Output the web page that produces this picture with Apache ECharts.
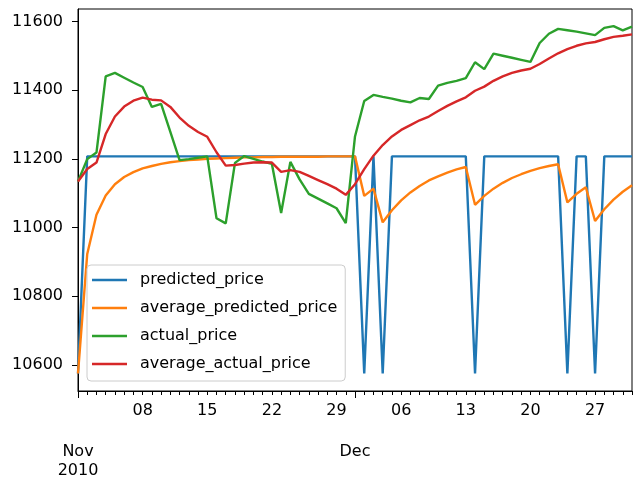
<!DOCTYPE html>
<html>
<head>
<meta charset="utf-8">
<script src="https://cdn.jsdelivr.net/npm/echarts@6/dist/echarts.min.js"></script>
<style>
html,body{margin:0;padding:0;background:#fff;}
#chart{width:640px;height:481px;}
</style>
</head>
<body>
<div id="chart"></div>
<script>
// ---- data ----
const startDate = '2010-11-01';
const dayCount = 61; // 2010-11-01 .. 2010-12-31, daily
const dates = [];
(function(){
  const d0 = new Date(startDate + 'T00:00:00Z');
  for (let i = 0; i < dayCount; i++) {
    const d = new Date(d0.getTime() + i * 86400000);
    dates.push(d.toISOString().slice(0, 10));
  }
})();

const seriesNames = ['predicted_price', 'average_predicted_price', 'actual_price', 'average_actual_price'];

const predictedPrice = [
  10575, 11207, 11207, 11207, 11207, 11207, 11207, 11207, 11207, 11207,
  11207, 11207, 11207, 11207, 11207, 11207, 11207, 11207, 11207, 11207,
  11207, 11207, 11207, 11207, 11207, 11207, 11207, 11207, 11207, 11207,
  11207, 10575, 11207, 10575, 11207, 11207, 11207, 11207, 11207, 11207,
  11207, 11207, 11207, 10575, 11207, 11207, 11207, 11207, 11207, 11207,
  11207, 11207, 11207, 10575, 11207, 11207, 10575, 11207, 11207, 11207,
  11207
];
const averagePredictedPrice = [
  10575, 10923, 11037, 11093, 11126, 11147, 11161, 11172, 11179, 11185,
  11190, 11193, 11196, 11198, 11200, 11201, 11202, 11203, 11204, 11204,
  11205, 11205, 11206, 11206, 11206, 11206, 11206, 11207, 11207, 11207,
  11207, 11092, 11113, 11015, 11050, 11079, 11102, 11121, 11137, 11149,
  11160, 11169, 11176, 11066, 11092, 11113, 11130, 11144, 11155, 11165,
  11173, 11179, 11184, 11073, 11098, 11117, 11019, 11053, 11081, 11104,
  11123
];
const actualPrice = [
  11134, 11199, 11218, 11440, 11450, 11436, 11422, 11409, 11351, 11360,
  11278, 11196, 11199, 11203, 11207, 11027, 11012, 11188, 11208, 11200,
  11192, 11185, 11042, 11191, 11140, 11098, 11084, 11070, 11056, 11013,
  11265, 11368, 11386, 11380, 11375, 11369, 11364, 11377, 11374, 11413,
  11421, 11427, 11435, 11481, 11461, 11506, 11500, 11494, 11488, 11482,
  11537, 11564, 11578, 11574, 11570, 11565, 11560, 11581, 11586, 11574,
  11585
];
const averageActualPrice = [
  11134, 11170, 11189, 11272, 11323, 11352, 11369, 11378, 11372, 11370,
  11351, 11320, 11296, 11278, 11264, 11219, 11180, 11182, 11186, 11189,
  11190, 11189, 11162, 11167, 11162, 11150, 11138, 11126, 11113, 11095,
  11126, 11170, 11209, 11240, 11265, 11284, 11298, 11312, 11323, 11339,
  11354, 11367, 11379, 11398, 11410, 11427, 11440, 11450, 11457, 11462,
  11476, 11492, 11507, 11519, 11529, 11536, 11540, 11548, 11555, 11558,
  11562
];

const yTicks = [10600, 10800, 11000, 11200, 11400, 11600];
const weekTickDates = ['2010-11-08','2010-11-15','2010-11-22','2010-11-29','2010-12-06','2010-12-13','2010-12-20','2010-12-27'];
const weekTickLabels = ['08','15','22','29','06','13','20','27'];
const monthTickDates = ['2010-11-01','2010-12-01'];
const monthTickLabels = ['Nov\n2010','Dec'];

const colors = ['#1f77b4', '#ff7f0e', '#2ca02c', '#d62728'];
const seriesData = [predictedPrice, averagePredictedPrice, actualPrice, averageActualPrice];

// ---- chart ----
const FONT = 'DejaVu Sans';
const chart = echarts.init(document.getElementById('chart'), null, {renderer: 'canvas'});

const option = {
  animation: false,
  backgroundColor: '#ffffff',
  textStyle: {fontFamily: FONT},
  grid: {
    left: 78, right: 8, top: 9, bottom: 90,
    show: true, borderColor: '#000000', borderWidth: 1, backgroundColor: 'transparent'
  },
  legend: {
    orient: 'vertical',
    left: 87, top: 265,
    data: seriesNames,
    icon: 'rect',
    itemWidth: 35, itemHeight: 2.5,
    itemGap: 10,
    padding: [6, 8, 8, 5],
    backgroundColor: 'rgba(255,255,255,0.8)',
    borderColor: '#cccccc', borderWidth: 1, borderRadius: 4,
    selectedMode: false,
    textStyle: {fontFamily: FONT, fontSize: 16, color: '#000', lineHeight: 18, padding: [0, 0, 0, 8]}
  },
  xAxis: [
    {
      type: 'category', data: dates, boundaryGap: false, position: 'bottom',
      axisLine: {show: true, lineStyle: {color: '#000', width: 1}},
      axisTick: {show: true, interval: 0, length: 4, lineStyle: {color: '#000', width: 1}},
      axisLabel: {
        interval: function (i, v) { return weekTickDates.indexOf(v) >= 0; },
        formatter: function (v) { const k = weekTickDates.indexOf(v); return k >= 0 ? weekTickLabels[k] : ''; },
        margin: 10, fontFamily: FONT, fontSize: 16, color: '#000', lineHeight: 19
      },
      splitLine: {show: false}
    },
    {
      type: 'category', data: dates, boundaryGap: false, position: 'bottom', offset: 0,
      axisLine: {show: false},
      axisTick: {show: true, interval: function (i, v) { return monthTickDates.indexOf(v) >= 0; }, length: 7, lineStyle: {color: '#000', width: 1}},
      axisLabel: {
        interval: function (i, v) { return monthTickDates.indexOf(v) >= 0; },
        formatter: function (v) { const k = monthTickDates.indexOf(v); return k >= 0 ? monthTickLabels[k] : ''; },
        margin: 51, fontFamily: FONT, fontSize: 16, color: '#000', lineHeight: 19
      },
      splitLine: {show: false}
    }
  ],
  yAxis: {
    type: 'value', min: 10524, max: 11636,
    axisLine: {show: true, lineStyle: {color: '#000', width: 1}},
    axisTick: {show: true, length: 6, customValues: yTicks, lineStyle: {color: '#000', width: 1}},
    axisLabel: {
      customValues: yTicks, margin: 15, fontFamily: FONT, fontSize: 16, color: '#000',
      formatter: function (v) { return String(v); }
    },
    splitLine: {show: false}
  },
  series: seriesNames.map(function (name, i) {
    return {
      name: name, type: 'line', xAxisIndex: 0, yAxisIndex: 0,
      data: seriesData[i],
      showSymbol: false, symbol: 'none',
      color: colors[i],
      lineStyle: {color: colors[i], width: 2.4},
      itemStyle: {color: colors[i]},
      emphasis: {disabled: true},
      clip: true
    };
  })
};
chart.setOption(option);
</script>
</body>
</html>
